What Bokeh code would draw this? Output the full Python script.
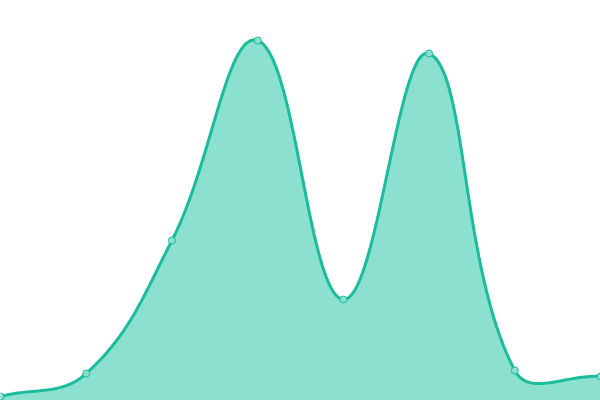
import numpy as np
from bokeh.embed import file_html
from bokeh.models import ColumnDataSource, Range1d
from bokeh.plotting import figure
from bokeh.resources import INLINE

# data (index along x, value 0..100)
labels = ["1", "2", "3", "4", "5", "6", "7", "8"]
values = [1, 6.75, 40, 90, 25.25, 86.75, 7.5, 6]

LINE = "#1abc9c"
FILL = "#8be0d0"


def smooth_path(xs, ys, tension=0.4, sx=600 / 7, sy=4.0, steps=40):
    """Spline through the points (control points as in Chart.js), sampled for drawing."""
    px = np.asarray(xs, float) * sx
    py = np.asarray(ys, float) * sy
    n = len(px)
    cps = []
    for i in range(n):
        pi, ni = max(i - 1, 0), min(i + 1, n - 1)
        d01 = np.hypot(px[i] - px[pi], py[i] - py[pi])
        d12 = np.hypot(px[ni] - px[i], py[ni] - py[i])
        tot = d01 + d12
        s01 = d01 / tot if tot else 0
        s12 = d12 / tot if tot else 0
        fa, fb = tension * s01, tension * s12
        dx, dy = px[ni] - px[pi], py[ni] - py[pi]
        cps.append(((px[i] - fa * dx, py[i] - fa * dy), (px[i] + fb * dx, py[i] + fb * dy)))
    out_x, out_y = [], []
    t = np.linspace(0, 1, steps)
    for i in range(n - 1):
        p0 = (px[i], py[i])
        p1 = cps[i][1]
        p2 = cps[i + 1][0]
        p3 = (px[i + 1], py[i + 1])
        bx = (1 - t) ** 3 * p0[0] + 3 * (1 - t) ** 2 * t * p1[0] + 3 * (1 - t) * t ** 2 * p2[0] + t ** 3 * p3[0]
        by = (1 - t) ** 3 * p0[1] + 3 * (1 - t) ** 2 * t * p1[1] + 3 * (1 - t) * t ** 2 * p2[1] + t ** 3 * p3[1]
        if i > 0:
            bx, by = bx[1:], by[1:]
        out_x.extend(bx / sx)
        out_y.extend(by / sy)
    return out_x, out_y


xs = list(range(len(values)))
cx, cy = smooth_path(xs, values)

p = figure(
    width=600,
    height=400,
    output_backend="svg",
    toolbar_location=None,
    min_border=0,
    x_range=Range1d(0, 7),
    y_range=Range1d(0, 100),
)
p.axis.visible = False
p.grid.visible = False
p.outline_line_color = None
p.background_fill_color = "white"

p.varea(x=cx, y1=[-10] * len(cx), y2=cy, fill_color=FILL, fill_alpha=1)
p.line(x=cx, y=cy, line_color=LINE, line_width=3)

source = ColumnDataSource(dict(x=xs, y=values, label=labels))
p.scatter(x="x", y="y", source=source, size=7, fill_color=FILL, line_color=LINE, line_width=1)

open("out.html", "w").write(file_html(p, INLINE))
